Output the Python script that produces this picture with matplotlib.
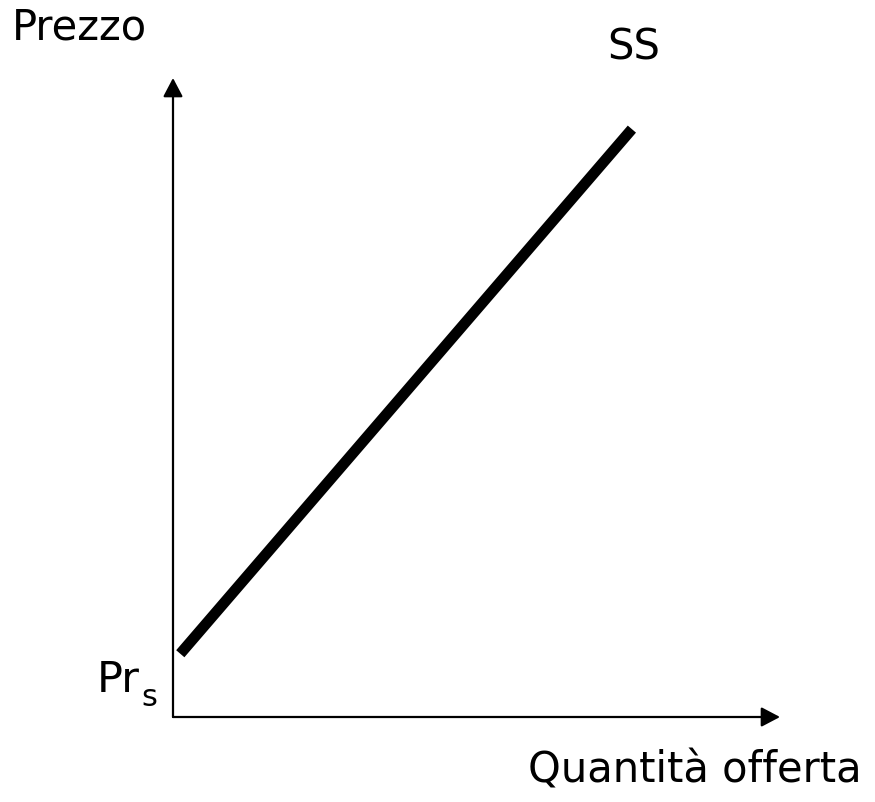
import matplotlib
matplotlib.use("Agg")
import matplotlib.pyplot as plt

# Data (abstract units: axes span 0..10 on both axes)
supply_q = [0.12, 7.56]
supply_p = [0.99, 9.2]
x_label = "Quantità offerta"
y_label = "Prezzo"
curve_label = "SS"
intercept_main = "Pr"
intercept_sub = "s"

W, H = 875, 803
fig = plt.figure(figsize=(W / 100, H / 100), dpi=100)
fig.patch.set_facecolor("white")

ox, oy = 173, 718      # origin pixel
xt, yt = 780, 79       # arrow tips
ax = fig.add_axes([ox / W, (H - oy) / H, (xt - ox) / W, (oy - yt) / H])
ax.set_xlim(0, 10)
ax.set_ylim(0, 10)
ax.axis("off")

# axes with arrows
arrow_kw = dict(arrowstyle="-|>,head_length=0.95,head_width=0.5", lw=1.6, color="black",
                shrinkA=0, shrinkB=0, mutation_scale=12)
ax.annotate("", xy=(1, 0), xytext=(0, 0), xycoords="axes fraction",
            arrowprops=arrow_kw, annotation_clip=False)
ax.annotate("", xy=(0, 1), xytext=(0, 0), xycoords="axes fraction",
            arrowprops=arrow_kw, annotation_clip=False)

# supply curve
ax.plot(supply_q, supply_p, color="black", lw=7.8, solid_capstyle="butt", clip_on=False)

# labels
fs = 30
fig.text(12 / W, 1 - 40 / H, y_label, fontsize=fs, ha="left", va="baseline")
fig.text(607 / W, 1 - 59 / H, curve_label, fontsize=fs, ha="left", va="baseline")
fig.text(97 / W, 1 - 692 / H, intercept_main, fontsize=31, ha="left", va="baseline")
fig.text(141 / W, 1 - 706 / H, intercept_sub, fontsize=22, ha="left", va="baseline")
fig.text(862 / W, 1 - 783 / H, x_label, fontsize=fs, ha="right", va="baseline")

fig.savefig("out.png", dpi=100, facecolor="white")
